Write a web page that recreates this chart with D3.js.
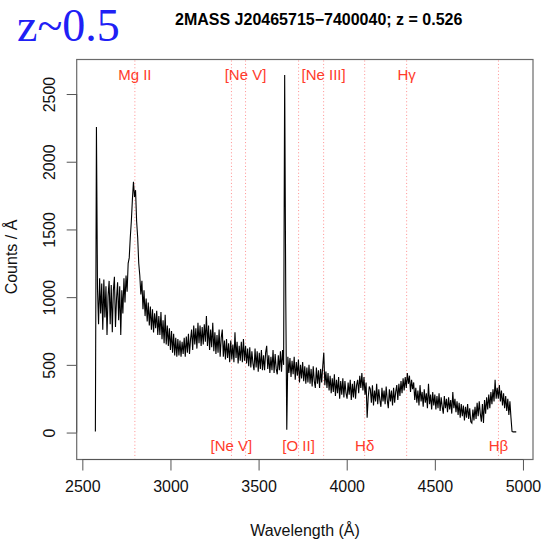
<!DOCTYPE html>
<html>
<head>
<meta charset="utf-8">
<script src="https://cdn.jsdelivr.net/npm/d3@7"></script>
<style>
  html, body { margin: 0; padding: 0; background: #fff; }
  svg { display: block; }
</style>
</head>
<body>
<svg id="chart" width="542" height="542"></svg>
<script>
// Rest-frame spectrum sampled every 6 Å starting at 2574 Å (counts per Å).
const waveStart = 2574;
const waveStep = 6;

// 2574 – 3048 Å : blue edge and Mg II
const fluxMgII = [
  8, 2257, 1060, 800, 1140, 880, 1100, 760, 1130, 850, 1080, 720, 1010, 1120, 800, 1090, 740, 1050, 1150, 780,
  990, 1110, 830, 1080, 720, 1050, 880, 1140, 960, 1160, 1040, 1250, 1290, 1440, 1560, 1720, 1852, 1740, 1790, 1560,
  1440, 1250, 1160, 1020, 1120, 910, 1050, 860, 990, 820, 960, 790, 930, 760, 910, 740, 880, 770, 900, 720,
  860, 720, 890, 690, 830, 660, 870, 650, 790, 640, 770, 610, 750, 590, 730, 570, 700, 560, 690, 570
];
// 3054 – 3528 Å : broad bump and [Ne V]
const fluxNeV = [
  680, 560, 670, 580, 700, 560, 710, 590, 730, 580, 690, 760, 610, 790, 650, 770, 620, 810, 660, 790,
  640, 780, 650, 800, 670, 860, 640, 790, 610, 760, 630, 810, 600, 740, 580, 720, 590, 760, 560, 700,
  760, 560, 680, 540, 690, 550, 660, 520, 680, 540, 650, 520, 740, 550, 670, 510, 640, 530, 670, 520,
  690, 530, 640, 510, 620, 490, 630, 480, 600, 510, 460, 620, 480, 600, 450, 590, 470, 610, 460, 570
];
// 3534 – 4008 Å : narrow spike, [O II] and [Ne III]
const fluxOII = [
  460, 590, 640, 470, 570, 440, 560, 460, 610, 440, 580, 470, 430, 570, 460, 600, 450, 610, 500, 2640,
  1030, 20, 560, 440, 550, 410, 530, 430, 560, 390, 520, 420, 540, 370, 500, 400, 520, 380, 490, 360,
  480, 370, 500, 360, 470, 340, 490, 380, 330, 480, 360, 460, 330, 470, 370, 490, 590, 350, 450, 330,
  440, 310, 420, 290, 400, 300, 430, 270, 390, 290, 410, 250, 380, 280, 400, 260, 380, 290, 250, 370
];
// 4014 – 4488 Å : Hδ and Hγ
const fluxBalmer = [
  280, 390, 240, 360, 260, 380, 250, 350, 390, 290, 420, 330, 440, 310, 410, 280, 370, 110, 260, 340,
  320, 220, 350, 200, 310, 230, 360, 210, 320, 240, 190, 330, 230, 310, 210, 340, 240, 180, 320, 230,
  310, 200, 330, 220, 300, 350, 240, 360, 270, 380, 290, 400, 310, 410, 330, 440, 360, 420, 300, 390,
  320, 370, 240, 330, 220, 310, 200, 350, 230, 300, 190, 320, 220, 290, 180, 360, 210, 280, 170, 300
];
// 4494 – 4962 Å : Hβ and red edge
const fluxHbeta = [
  200, 280, 170, 270, 180, 290, 160, 260, 190, 140, 270, 180, 250, 150, 260, 170, 240, 140, 300, 180,
  250, 150, 230, 130, 220, 110, 210, 120, 200, 90, 190, 110, 210, 100, 180, 80, 70, 170, 90, 190,
  100, 220, 120, 230, 140, 80, 210, 70, 240, 140, 260, 170, 280, 180, 300, 210, 320, 230, 390, 250,
  330, 250, 350, 230, 310, 200, 290, 180, 270, 160, 250, 130, 230, 110, 8, 5, 5, 5, 5
];

// Emission-line markers (rest wavelengths, Å)
const lineNames = ["Mg II", "[Ne V]", "[Ne V]", "[O II]", "[Ne III]", "H\u03b4", "H\u03b3", "H\u03b2"];
const lineWaves = [2798, 3346, 3426, 3727, 3869, 4102, 4340, 4861];
const lineSides = ["top", "bottom", "top", "bottom", "top", "bottom", "top", "bottom"];

const xTicks = [2500, 3000, 3500, 4000, 4500, 5000];
const yTicks = [0, 500, 1000, 1500, 2000, 2500];

const titleText = "2MASS J20465715\u22127400040; z = 0.526";
const tagText = "z~0.5";

const sans = "'Liberation Sans', Arial, Helvetica, sans-serif";
const serif = "'Liberation Serif', 'Times New Roman', Times, serif";

const flux = [].concat(fluxMgII, fluxNeV, fluxOII, fluxBalmer, fluxHbeta);
const spectrum = flux.map((f, i) => ({ w: waveStart + i * waveStep, f }));

const svg = d3.select("#chart");
const box = { left: 76.7, right: 533, top: 59.5, bottom: 459.5 };

const x = d3.scaleLinear().domain([2468, 5057]).range([box.left, box.right]);
const y = d3.scaleLinear().domain([-199, 2755]).range([box.bottom, box.top]);

// emission line guides
svg.append("g").selectAll("line")
  .data(lineWaves)
  .join("line")
  .attr("x1", d => x(d)).attr("x2", d => x(d))
  .attr("y1", box.top + 1).attr("y2", box.bottom - 1)
  .attr("stroke", "#ff6a6a")
  .attr("stroke-opacity", 0.75)
  .attr("stroke-width", 1)
  .attr("stroke-dasharray", "1,2.4");

// spectrum trace
const line = d3.line().x(d => x(d.w)).y(d => y(d.f));
svg.append("path")
  .datum(spectrum)
  .attr("fill", "none")
  .attr("stroke", "#000")
  .attr("stroke-width", 1.1)
  .attr("d", line);

// line labels
svg.append("g").selectAll("text")
  .data(lineNames.map((n, i) => ({ n, w: lineWaves[i], s: lineSides[i] })))
  .join("text")
  .attr("x", d => x(d.w))
  .attr("y", d => d.s === "top" ? 80 : 451)
  .attr("text-anchor", "middle")
  .style("font-family", sans)
  .style("font-size", "15px")
  .attr("fill", "#ff3b2b")
  .text(d => d.n);

// plot frame
svg.append("rect")
  .attr("x", box.left).attr("y", box.top)
  .attr("width", box.right - box.left).attr("height", box.bottom - box.top)
  .attr("fill", "none")
  .attr("stroke", "#6a6a6a")
  .attr("stroke-width", 1.2);

// axes
const xAxis = d3.axisBottom(x).tickValues(xTicks).tickSize(11).tickPadding(10).tickFormat(d3.format("d"));
const gx = svg.append("g").attr("transform", `translate(0,${box.bottom})`).call(xAxis);
gx.select(".domain").attr("d", `M${x(2500)},0H${x(5000)}`).attr("stroke", "#555");
gx.selectAll(".tick line").attr("stroke", "#555");
gx.selectAll(".tick text").attr("fill", "#111")
  .style("font-family", sans).style("font-size", "16px");

const yAxis = d3.axisLeft(y).tickValues(yTicks).tickSize(10).tickFormat(d3.format("d"));
const gy = svg.append("g").attr("transform", `translate(${box.left},0)`).call(yAxis);
gy.select(".domain").attr("d", `M0,${y(0)}V${y(2500)}`).attr("stroke", "#555");
gy.selectAll(".tick line").attr("stroke", "#555");
gy.selectAll(".tick text").remove();
gy.selectAll(".tick").append("text")
  .attr("transform", `translate(${49 - box.left},0) rotate(-90)`)
  .attr("dy", "0.35em")
  .attr("text-anchor", "middle")
  .attr("fill", "#111")
  .style("font-family", sans).style("font-size", "16px")
  .text(d => d);

// axis titles
svg.append("text")
  .attr("x", 305).attr("y", 530).attr("dy", "0.35em")
  .attr("text-anchor", "middle").attr("fill", "#111")
  .style("font-family", sans).style("font-size", "16px")
  .text("Wavelength (\u00c5)");
svg.append("text")
  .attr("transform", "translate(11,257) rotate(-90)")
  .attr("dy", "0.35em")
  .attr("text-anchor", "middle").attr("fill", "#111")
  .style("font-family", sans).style("font-size", "16px")
  .text("Counts / \u00c5");

// title and redshift tag
svg.append("text")
  .attr("x", 318.7).attr("y", 25)
  .attr("text-anchor", "middle").attr("fill", "#000")
  .style("font-family", sans).style("font-size", "16px").style("font-weight", "bold")
  .text(titleText);
svg.append("text")
  .attr("x", 17).attr("y", 41)
  .attr("fill", "#2020f5")
  .style("font-family", serif).style("font-size", "46px")
  .text(tagText);
</script>
</body>
</html>
